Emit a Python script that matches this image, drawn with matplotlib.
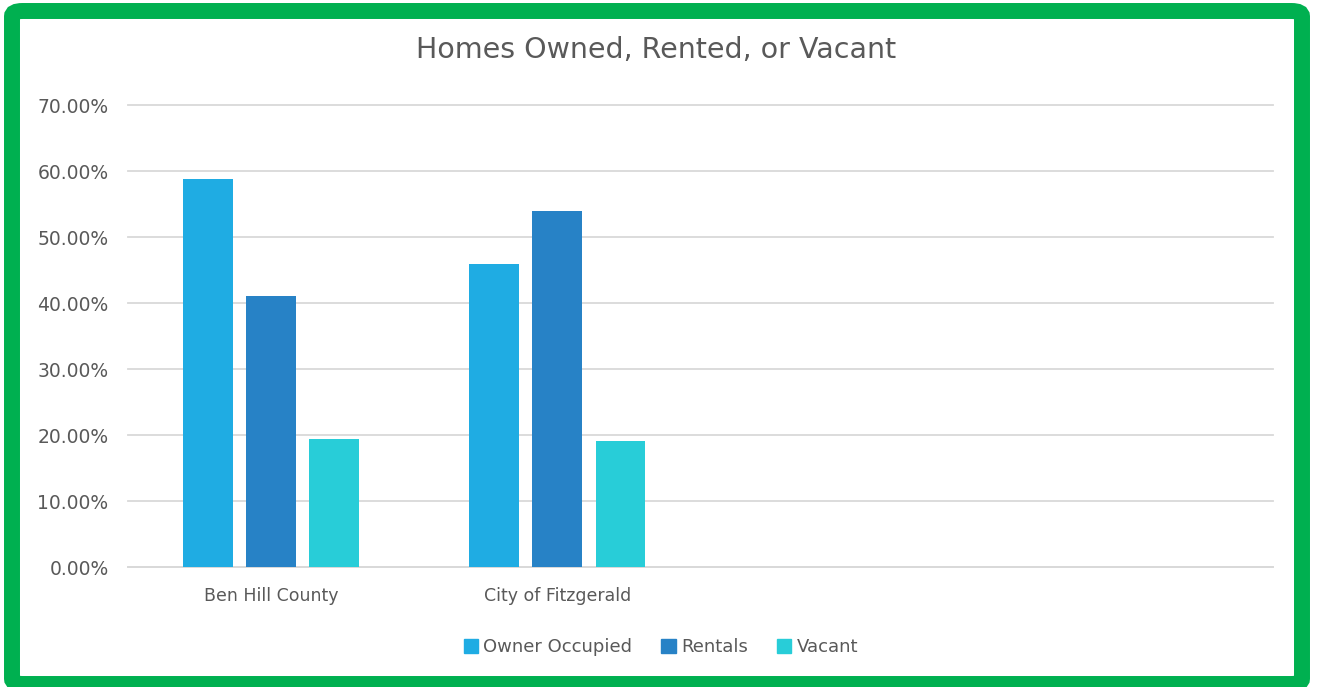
import numpy as np
import matplotlib.pyplot as plt
from matplotlib.patches import FancyBboxPatch, Patch

categories = ['Ben Hill County', 'City of Fitzgerald', '', '']
owner = [0.588, 0.4595, np.nan, np.nan]
rentals = [0.411, 0.540, np.nan, np.nan]
vacant = [0.194, 0.192, np.nan, np.nan]
series_names = ['Owner Occupied', 'Rentals', 'Vacant']
colors = ['#1FACE3', '#2782C6', '#28CDD8']
yticks = [0, 0.1, 0.2, 0.3, 0.4, 0.5, 0.6, 0.7]

txt = '#595959'
plt.rcParams['font.family'] = ['DejaVu Sans']

fig = plt.figure(figsize=(13.22, 6.87), dpi=100)
ax = fig.add_axes([0.0968, 0.1742, 0.8659, 0.6725])

x = np.arange(len(categories))
step = 0.221
width = 0.1745
for i, (vals, c) in enumerate(zip([owner, rentals, vacant], colors)):
    ax.bar(x + (i - 1) * step, vals, width, color=c, zorder=3)

ax.set_xlim(-0.5, len(categories) - 0.5)
ax.set_ylim(0, 0.7)
ax.set_yticks(yticks)
ax.set_yticklabels(['%.2f%%' % (v * 100) for v in yticks], color=txt, fontsize=13.5)
ax.set_xticks(x)
ax.set_xticklabels(categories, color=txt, fontsize=12.5)
ax.tick_params(axis='both', length=0)
ax.tick_params(axis='y', pad=14)
ax.tick_params(axis='x', pad=14.5)
ax.grid(axis='y', color='#D9D9D9', linewidth=1.3, zorder=0)
for gl in ax.get_ygridlines():
    gl.set_clip_on(False)
for s in ['top', 'right', 'left']:
    ax.spines[s].set_visible(False)
ax.spines['bottom'].set_color('#D9D9D9')
ax.spines['bottom'].set_linewidth(1.3)

fig.text(0.496, 1 - 50 / 687, 'Homes Owned, Rented, or Vacant', ha='center', va='center',
         color=txt, fontsize=20.5)

handles = [Patch(color=c) for c in colors]
fig.legend(handles, series_names, loc='center', bbox_to_anchor=(0.5, 1 - 647 / 687),
           ncol=3, frameon=False, fontsize=13, labelcolor=txt,
           handlelength=0.8, handleheight=0.8, handletextpad=0.3, columnspacing=1.6)

# green frame; bottom edge runs slightly off the image like the original
border = FancyBboxPatch((12 / 1322, 3 / 687), 1290 / 1322, 673 / 687,
                        boxstyle='round,pad=0,rounding_size=0.008',
                        transform=fig.transFigure, fill=False,
                        edgecolor='#00B050', linewidth=11.5, zorder=10)
fig.patches.append(border)

fig.savefig('out.png', dpi=100)
